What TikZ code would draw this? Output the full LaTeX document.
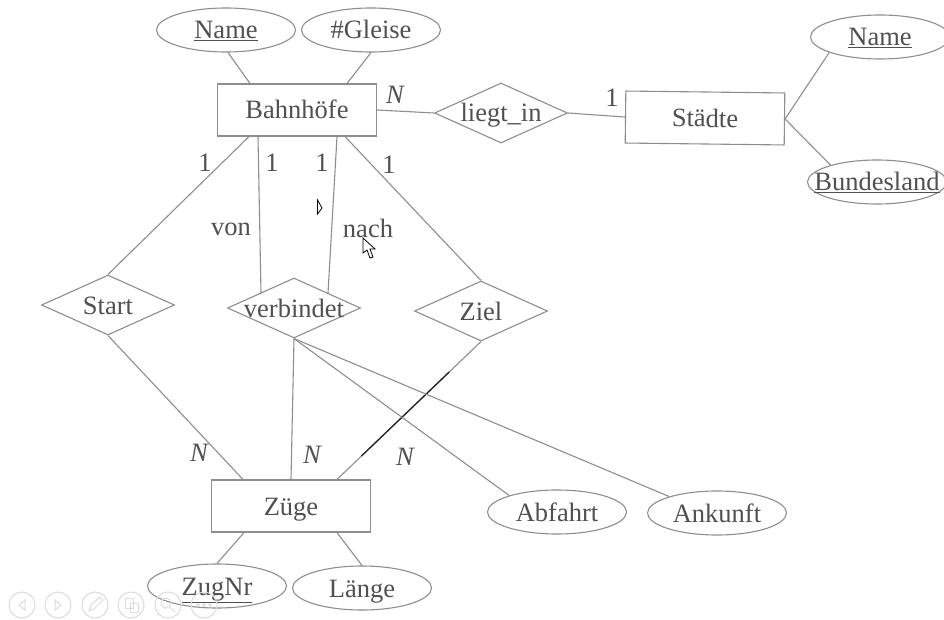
\documentclass[tikz,border=0pt]{standalone}
\usepackage{fontspec}
\setmainfont{Liberation Serif}
\usetikzlibrary{shapes.geometric}
\definecolor{ln}{HTML}{8E8E8E}
\definecolor{tx}{HTML}{505050}
\definecolor{ic}{HTML}{DCDCDC}
\newcommand{\zt}[1]{\makebox[0pt][c]{#1}}
\tikzset{
  x=1pt,y=-1pt,
  every node/.style={text=tx,font=\fontsize{26.5}{30}\selectfont,inner sep=0pt,text height=22pt,text depth=4pt},
  ent/.style={draw=ln,line width=1.1pt,rectangle,minimum width=159pt,minimum height=52pt},
  attr/.style={draw=ln,line width=1.1pt,ellipse,minimum width=139pt,minimum height=44pt},
  rel/.style={draw=ln,line width=1.1pt,diamond,minimum width=133pt,minimum height=60pt},
  card/.style={font=\fontsize{26.5}{30}\itshape\selectfont},
  con/.style={draw=ln,line width=1.1pt},
  navicon/.style={draw=ic,line width=1pt}
}
\begin{document}
\begin{tikzpicture}
\clip (0,0) rectangle (944,620);
\fill[white] (0,0) rectangle (944,620);
% nodes
\node[attr] (bname) at (226,30) {\zt{\underline{Name}}};
\node[attr] (gleise) at (371,30) {\zt{\#Gleise}};
\node[ent] (bf) at (297,110) {\zt{Bahnhöfe}};
\node[rel] (liegt) at (501,113) {\zt{liegt\_in}};
\node[ent,rotate=-0.7] (st) at (705,118) {\zt{Städte}};
\node[attr] (sname) at (880,37) {\zt{\underline{Name}}};
\node[attr] (bland) at (877,182) {\zt{\underline{Bundesland}}};
\node[rel] (start) at (108,305) {\zt{Start}};
\node[rel] (verb) at (294,308) {\zt{verbindet}};
\node[rel] (ziel) at (481,311) {\zt{Ziel}};
\node[ent] (zug) at (291,506) {\zt{Züge}};
\node[attr] (abf) at (557,512) {\zt{Abfahrt}};
\node[attr] (ank) at (717,513) {\zt{Ankunft}};
\node[attr] (znr) at (217,586) {\zt{\underline{ZugNr}}};
\node[attr] (laenge) at (362,588) {\zt{Länge}};
% connectors
\draw[con] ([xshift=2pt]bname.south) -- ([xshift=-47pt]bf.north);
\draw[con] (gleise.south) -- ([xshift=50pt]bf.north);
\draw[con] (bf.east) -- (liegt.west);
\draw[con] (liegt.east) -- (st.west);
\draw[con] (st.east) -- (sname.197);
\draw[con] (st.east) -- (bland.160);
\draw[con] ([xshift=-48pt]bf.south) -- (start.north);
\draw[con] ([xshift=-39pt]bf.south) -- ([xshift=-33pt,yshift=15pt]verb.center);
\draw[con] ([xshift=40pt]bf.south) -- ([xshift=34pt,yshift=15pt]verb.center);
\draw[con] ([xshift=48pt]bf.south) -- (ziel.north);
\draw[con] (start.south) -- ([xshift=-48pt]zug.north);
\draw[con] (verb.south) -- (zug.north);
\draw[con] (ziel.south) -- coordinate[pos=0.22] (da) coordinate[pos=0.83] (db) ([xshift=46pt]zug.north);
\draw[black!85,line width=1.3pt] (da) -- (db);
\draw[con] (verb.south) -- (abf.161);
\draw[con] (verb.south) -- (ank.161);
\draw[con] ([xshift=-47pt]zug.south) -- (znr.north);
\draw[con] ([xshift=46pt]zug.south) -- (laenge.north);
% labels
\node[card] (l1) at (395,95) {N};
\node (l2) at (612,98) {1};
\node (l3) at (205,163) {1};
\node (l4) at (272,163) {1};
\node (l5) at (322,163) {1};
\node (l6) at (389,165) {1};
\node (l7) at (231,227) {von};
\node (l8) at (368,228) {nach};
\node[card] (l9) at (199,452) {N};
\node[card] (l10) at (312,454) {N};
\node[card] (l11) at (405,456) {N};
% mouse pointers
\draw[black,line width=.8pt,fill=white] (317.5,200) -- (317.5,214) -- (322,208) -- cycle;
\draw[black,line width=.8pt,fill=white] (363,238) -- (363,253) -- (367,250) -- (370,258) -- (373,257) -- (370,249) -- (375,249) -- cycle;
% presentation buttons
\foreach \cx in {22,58,95,131,168,204} \draw[navicon] (\cx,605) circle (13);
\draw[navicon] (25,600) -- (19,605) -- (25,610) -- cycle;
\draw[navicon] (55,600) -- (61,605) -- (55,610) -- cycle;
\draw[navicon] (89,611) -- (91,605) -- (100,597) -- (103,600) -- (94,609) -- cycle;
\draw[navicon] (125,598) rectangle (133,608) (130,603) rectangle (138,612);
\draw[navicon] (166,603) circle (5) (170,607) -- (175,612);
\draw[navicon] (198,605) circle (1.5) (204,605) circle (1.5) (210,605) circle (1.5);
\end{tikzpicture}
\end{document}
